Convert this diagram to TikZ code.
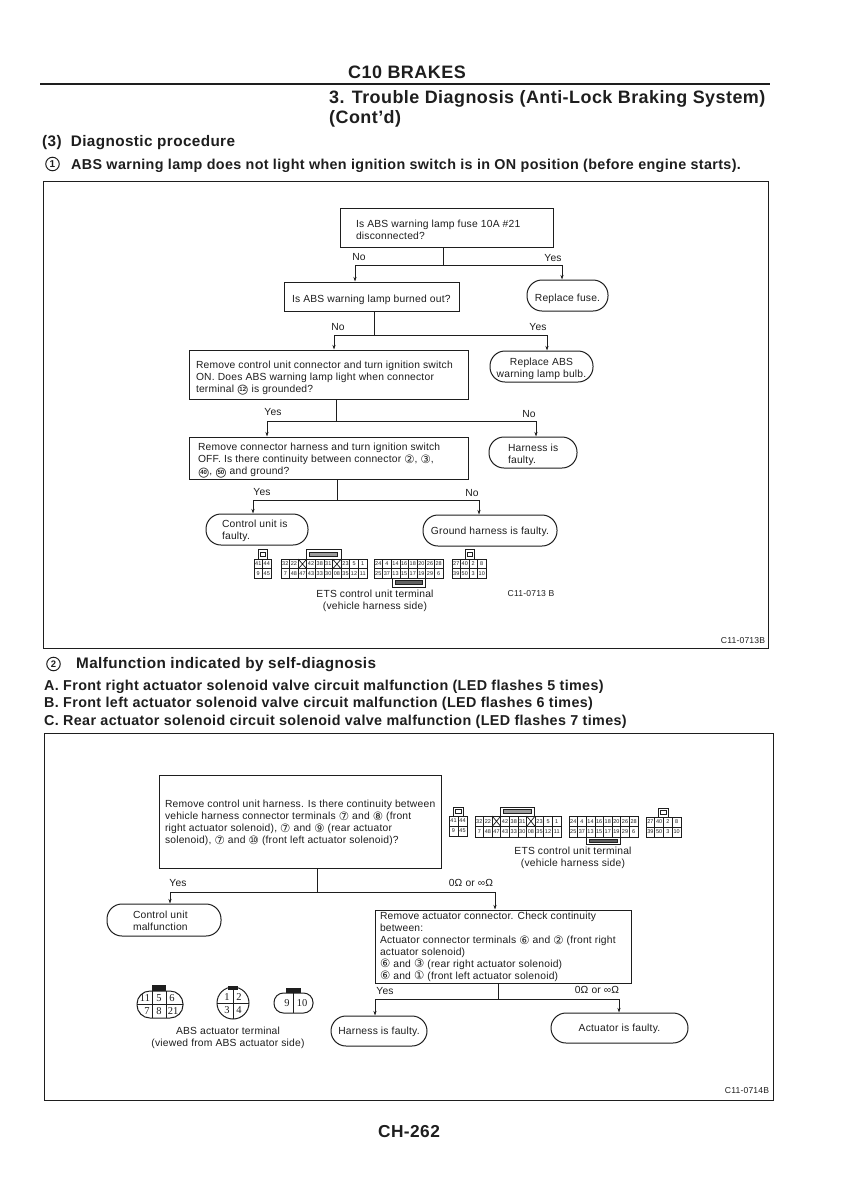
\documentclass[tikz,border=0pt]{standalone}
\usepackage{fontspec}
\setmainfont[LetterSpace=2]{Liberation Sans}
\newfontfamily\boldf[LetterSpace=2.5]{Liberation Sans Bold}
\newfontfamily\symfont{DejaVu Sans}
\newfontfamily\numfont{Liberation Serif}
\usetikzlibrary{arrows.meta}
\definecolor{ink}{HTML}{1E1E1E}
\newcommand\cg[1]{\smash{\symfont\fontsize{11.5}{11.5}\selectfont\raisebox{-.6pt}{#1}}}
\newcommand\cn[1]{\smash{\ooalign{\hfil\raisebox{0.6pt}{\fontsize{6}{6}\selectfont\bfseries #1}\hfil\crcr{\symfont\fontsize{13}{13}\selectfont\raisebox{-1.6pt}{○}}}}}
\newcommand\fs{\fontsize{10.3}{11.9}\selectfont}
\def\dy{5}
% box with left-aligned text block starting #3 after the left edge
\newcommand\qb[8][qbox]{%
  \pgfmathsetmacro\cx{(#4+#6)/2}\pgfmathsetmacro\cy{(#5+#7)/2}%
  \pgfmathsetmacro\wid{#6-#4}\pgfmathsetmacro\hei{#7-#5}%
  \node[#1,minimum width=\wid pt,minimum height=\hei pt,inner sep=0pt] (#2) at (\cx,\cy) {\makebox[\wid pt][l]{\hspace{#3pt}\vbox{\vskip\dy pt\hbox{\begin{tabular}{@{}l@{}}#8\end{tabular}}}}};}
% pill with centred text
\newcommand\pb[6]{%
  \pgfmathsetmacro\cx{(#2+#4)/2}\pgfmathsetmacro\cy{(#3+#5)/2}%
  \pgfmathsetmacro\wid{#4-#2}\pgfmathsetmacro\hei{#5-#3}%
  \node[pill,minimum width=\wid pt,minimum height=\hei pt,inner sep=0pt] (#1) at (\cx,\cy) {\makebox[\wid pt][c]{\vbox{\vskip\dy pt\hbox{\begin{tabular}{@{}c@{}}#6\end{tabular}}}}};}
% #1 name, #2 source, #3 left target, #4 right target, #5 exit x, #6 junction y, #7 left x, #8 right x
\newcommand\flow[8]{%
  \coordinate (#1e) at (#5,#6);\coordinate (#1l) at (#7,#6);\coordinate (#1r) at (#8,#6);
  \draw[conn] (#2.south -| #1e) -- (#1e);
  \draw[conn] (#1l) -- (#1r);
  \draw[conn,-{Stealth[length=4.5pt,width=3pt]}] (#1l) -- (#1l |- #3.north);
  \draw[conn,-{Stealth[length=4.5pt,width=3pt]}] (#1r) -- (#1r |- #4.north);}
% #1 prefix,#2 x1,#3 y1,#4 x2,#5 y2,#6 cells,#7 top,#8 bottom
\newcommand\grid[8]{%
  \pgfmathsetmacro\cw{(#4-#2)/#6}\pgfmathsetmacro\ym{(#3+#5)/2}
  \pgfmathsetmacro\yt{(#3+\ym)/2}\pgfmathsetmacro\yb{(\ym+#5)/2}
  \draw[term] (#2,#3) rectangle (#4,#5);
  \draw[term] (#2,\ym) -- (#4,\ym);
  \foreach \t [count=\i] in {#7}{
    \pgfmathsetmacro\xa{#2+(\i-1)*\cw}\pgfmathsetmacro\xc{#2+(\i-.5)*\cw}
    \draw[term] (\xa,#3) -- (\xa,#5);
    \node[tnum,name=#1t\i] at (\xc,\yt) {\t};}
  \foreach \t [count=\i] in {#8}{
    \pgfmathsetmacro\xc{#2+(\i-.5)*\cw}
    \node[tnum,name=#1b\i] at (\xc,\yb) {\t};}
}
\tikzset{
  x=1pt,y=-1pt,
  every node/.style={text=ink},
  conn/.style={draw=ink,line width=1pt},
  frame/.style={draw=ink,line width=.9pt},
  qbox/.style={draw=ink,line width=1pt,rectangle,font=\fs},
  pill/.style={draw=ink,line width=1pt,rectangle,rounded corners=15pt,font=\fs},
  lbl/.style={font=\fs,inner sep=0},
  txt/.style={font=\fs,inner sep=0,align=center},
  term/.style={draw=ink,line width=.7pt},
  tnum/.style={font=\fontsize{5.5}{6}\selectfont,inner sep=0},
  anum/.style={font=\numfont\fontsize{10.5}{11}\selectfont,inner sep=0},
  code/.style={font=\fontsize{8.6}{10}\selectfont,inner sep=0},
  head/.style={font=\boldf\fontsize{15.3}{17}\selectfont,inner sep=0,anchor=west},
  sub/.style={font=\boldf\fontsize{14.33}{16}\selectfont,inner sep=0,anchor=west},
  big/.style={font=\boldf\fontsize{17.95}{20}\selectfont,inner sep=0,anchor=west},
}
\begin{document}
\begin{tikzpicture}
\useasboundingbox (0,0) rectangle (848,1200);
\fill[white] (0,0) rectangle (848,1200);
% page head
\coordinate (ruleL) at (40,84);\coordinate (ruleR) at (770,84);
\draw[draw=ink,line width=2.8pt] (ruleL) -- (ruleR);
\node[inner sep=0,font=\boldf\fontsize{18}{20}\selectfont] (title) at (407,72) {C10 BRAKES};
\node[big] (sect1) at (329,98.5) {3. Trouble Diagnosis (Anti-Lock Braking System)};
\node[big] (sect2) at (329,118.5) {(Cont’d)};
\node[head] (proc) at (42,143) {(3)\ \ Diagnostic procedure};
\node[circle,draw=ink,line width=1pt,inner sep=0,minimum size=13.5pt,font=\boldf\fontsize{10}{10}\selectfont] (c1) at (52.5,164) {1};
\node[sub] (h1) at (71,166) {ABS warning lamp does not light when ignition switch is in ON position (before engine starts).};
% panel 1
\draw[frame] (43,181) rectangle (768,648);
\def\dy{6.5}
\qb{a1}{16}{340}{208}{553}{247}{Is ABS warning lamp fuse 10A \#21\\disconnected?}
\qb{a2}{8}{284}{282}{459}{311}{Is ABS warning lamp burned out?}
\pb{f1}{527}{280}{608}{311}{Replace fuse.}
\qb{a3}{7}{189}{350}{468}{399}{Remove control unit connector and turn ignition switch\\ON. Does ABS warning lamp light when connector\\terminal \cn{12} is grounded?}
\def\dy{4.5}
\pb{f2}{490}{351}{593}{382}{Replace ABS\\warning lamp bulb.}
\def\dy{5}
\qb{a4}{9}{189}{437}{468}{479}{Remove connector harness and turn ignition switch\\OFF. Is there continuity between connector \cg{②}, \cg{③},\\\cn{40}, \cn{50} and ground?}
\qb[pill]{f3}{19}{489}{437}{577}{468}{Harness is\\faulty.}
\def\dy{4}
\qb[pill]{f4}{16}{206}{514}{308}{545}{Control unit is\\faulty.}
\pb{f5}{423}{515}{557}{546}{Ground harness is faulty.}
\flow{j1}{a1}{a2}{f1}{443}{265}{355}{562}
\flow{j2}{a2}{a3}{f2}{374}{335}{334}{547}
\flow{j3}{a3}{a4}{f3}{336}{421}{267}{536}
\flow{j4}{a4}{f4}{f5}{337}{500}{253}{479}
\node[lbl] (n1) at (359,257) {No};\node[lbl] (y1) at (553,258) {Yes};
\node[lbl] (n2) at (338,327) {No};\node[lbl] (y2) at (538,327) {Yes};
\node[lbl] (y3) at (273,412) {Yes};\node[lbl] (n3) at (529,414) {No};
\node[lbl] (y4) at (262,492) {Yes};\node[lbl] (n4) at (472,493) {No};
% terminals 1
\grid{p}{254}{559}{271}{578}{2}{41,44}{9,45}
\draw[term] (258,559) rectangle (267,549);\draw[term] (260,552) rectangle (265,556);
\grid{q}{281}{559}{367}{578}{10}{32,22,,42,38,31,,23,5,1}{7,48,47,43,33,30,08,35,12,11}
\draw[term] (306,559) rectangle (341,549);\draw[term,fill=ink!45] (309,552) rectangle (337,556);
\draw[term] (298.2,559) -- (306.8,569) (298.2,569) -- (306.8,559);
\draw[term] (332.6,559) -- (341.2,569) (332.6,569) -- (341.2,559);
\grid{r}{374}{559}{443}{578}{8}{24,4,14,16,18,20,26,28}{25,37,13,15,17,19,29,6}
\draw[term] (392,578) rectangle (425,587);\draw[term,fill=ink!70] (395,580) rectangle (422,584);
\grid{s}{452}{559}{486}{578}{4}{27,40,2,8}{39,50,3,10}
\draw[term] (465,559) rectangle (474,549);\draw[term] (467,552) rectangle (472,556);
\node[txt] (ets1) at (375,600.5) {ETS control unit terminal\\(vehicle harness side)};
\node[code] (cc1) at (531,593.5) {C11-0713 B};
\node[code] (cc2) at (743,641) {C11-0713B};
% middle headings
\node[circle,draw=ink,line width=1pt,inner sep=0,minimum size=13.5pt,font=\boldf\fontsize{9.5}{10}\selectfont] (c2) at (53.5,664) {2};
\node[head] (h2) at (76,665) {Malfunction indicated by self-diagnosis};
\node[sub] (la) at (44,687) {A. Front right actuator solenoid valve circuit malfunction (LED flashes 5 times)};
\node[sub] (lb) at (44,704) {B. Front left actuator solenoid valve circuit malfunction (LED flashes 6 times)};
\node[sub] (lc) at (44,722) {C. Rear actuator solenoid circuit solenoid valve malfunction (LED flashes 7 times)};
% panel 2
\draw[frame] (44,733) rectangle (773,1100);
\def\dy{3.5}
\qb{b1}{6}{159}{775}{441}{868}{Remove control unit harness. Is there continuity between\\vehicle harness connector terminals \cg{⑦} and \cg{⑧} (front\\right actuator solenoid), \cg{⑦} and \cg{⑨} (rear actuator\\solenoid), \cg{⑦} and \cg{⑩} (front left actuator solenoid)?}
\def\dy{5}
\qb[pill]{g1}{26}{107}{904}{221}{936}{Control unit\\malfunction}
\def\dy{1}
\qb{b2}{5}{375}{910}{631}{983}{Remove actuator connector. Check continuity\\between:\\Actuator connector terminals \cg{⑥} and \cg{②} (front right\\actuator solenoid)\\\cg{⑥} and \cg{③} (rear right actuator solenoid)\\\cg{⑥} and \cg{①} (front left actuator solenoid)}
\def\dy{2}
\pb{g2}{331}{1016}{427}{1046}{Harness is faulty.}
\pb{g3}{551}{1013}{688}{1043}{Actuator is faulty.}
\flow{k1}{b1}{g1}{b2}{317}{892}{170}{495}
\flow{k2}{b2}{g2}{g3}{498}{999}{375}{619}
\node[lbl] (y5) at (178,883) {Yes};\node[lbl] (o5) at (471,883) {0Ω or ∞Ω};
\node[lbl] (y6) at (385,991) {Yes};\node[lbl] (o6) at (597,990) {0Ω or ∞Ω};
% terminals 2
\grid{u}{449}{816}{467}{836}{2}{41,44}{9,45}
\draw[term] (453,816) rectangle (463,807);\draw[term] (455,809) rectangle (461,813);
\grid{v}{475}{816}{561}{837}{10}{32,22,,42,38,31,,23,5,1}{7,48,47,43,33,30,08,35,12,11}
\draw[term] (500,816) rectangle (534,807);\draw[term,fill=ink!45] (503,809) rectangle (531,813);
\draw[term] (492.2,816) -- (500.8,826.5) (492.2,826.5) -- (500.8,816);
\draw[term] (526.6,816) -- (535.2,826.5) (526.6,826.5) -- (535.2,816);
\grid{w}{569}{816}{638}{837}{8}{24,4,14,16,18,20,26,28}{25,37,13,15,17,19,29,6}
\draw[term] (586,837) rectangle (620,844);\draw[term,fill=ink!70] (589,839) rectangle (617,842);
\grid{z}{646}{817}{681}{837}{4}{27,40,2,8}{39,50,3,10}
\draw[term] (658,817) rectangle (668,808);\draw[term] (660,810) rectangle (666,814);
\node[txt] (ets2) at (573,858) {ETS control unit terminal\\(vehicle harness side)};
% actuator connectors
\draw[term,line width=1pt,rounded corners=13pt] (137,991) rectangle (183,1018);
\fill[ink] (152,985) rectangle (166,991);
\draw[term,line width=1pt] (137,1004) -- (183,1004) (152,991) -- (152,1018) (166,991) -- (166,1018);
\foreach \t/\xx/\yy/\nm in {11/145/998/m1,5/159/998/m2,6/172/998/m3,7/147/1011/m4,8/159/1011/m5,21/173/1011/m6}
  \node[anum,name=\nm] at (\xx,\yy) {\t};
\draw[term,line width=1pt] (233,1003) circle (16);
\fill[ink] (228,986) rectangle (238,990);
\draw[term,line width=1pt] (217,1003) -- (249,1003) (233,987) -- (233,1019);
\foreach \t/\xx/\yy/\nm in {1/227/997/m7,2/239/997/m8,3/227/1010/m9,4/239/1010/m10}
  \node[anum,name=\nm] at (\xx,\yy) {\t};
\draw[term,line width=1pt,rounded corners=9.5pt] (274,993) rectangle (313,1013);
\fill[ink] (286,988) rectangle (301,993);
\draw[term,line width=1pt] (293,993) -- (293,1013);
\node[anum] (m11) at (287,1003) {9};\node[anum] (m12) at (302,1003) {10};
\node[txt] (abs1) at (228,1037.5) {ABS actuator terminal\\(viewed from ABS actuator side)};
\node[code] (cc3) at (747,1091) {C11-0714B};
\node[font=\boldf\fontsize{17.3}{19}\selectfont,inner sep=0] (pg) at (409,1132) {CH-262};
\end{tikzpicture}
\end{document}
